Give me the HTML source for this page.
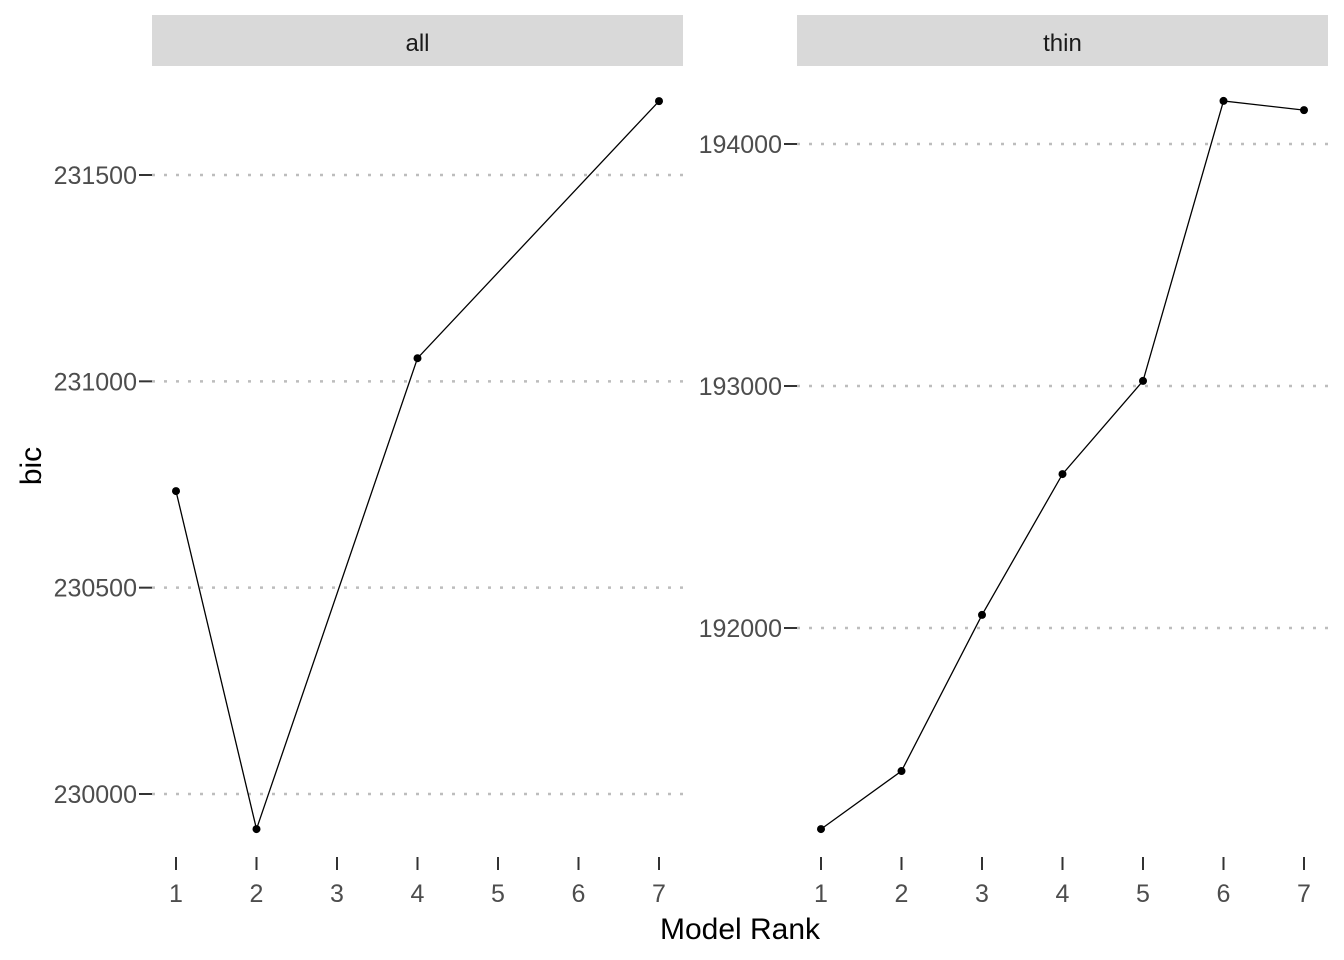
<!DOCTYPE html>
<html><head><meta charset="utf-8"><style>
body{margin:0;background:#fff;}
svg{display:block;font-family:"Liberation Sans",Arial,sans-serif;}
</style></head><body>
<svg id="chart" width="1344" height="960">
<text x="740" y="939" font-size="30" text-anchor="middle" fill="#000">Model Rank</text>
<text transform="translate(41,466) rotate(-90)" font-size="30" text-anchor="middle" fill="#000">bic</text>
</svg>
<script>
const ranks=[1,2,3,4,5,6,7];
const allRanks=[1,2,4,7];
const allBic=[230734,229915,231056,231679];
const allTicks=[230000,230500,231000,231500];
const thinRanks=[1,2,3,4,5,6,7];
const thinBic=[191169,191409,192054,192636,193021,194178,194140];
const thinTicks=[192000,193000,194000];
const NS="http://www.w3.org/2000/svg";
const svg=document.getElementById('chart');
function mk(t,a,p){const e=document.createElementNS(NS,t);for(const k in a)e.setAttribute(k,a[k]);(p||svg).appendChild(e);return e;}
function panel(name,left,right,label,xs,ys,ticks,v0,y0,v1,y1){
  const g=mk('g',{});
  
  
  const xf=v=>left+24+(v-1)*(right-left-48)/6;
  const yf=v=>y0+(v-v0)*(y1-y0)/(v1-v0);
  const s=mk('rect',{x:left,y:15,width:right-left,height:51,fill:'#d9d9d9'},g);
  
  
  const st=mk('text',{x:(left+right)/2,y:51,'font-size':24,'text-anchor':'middle',fill:'#1a1a1a'},g);
  st.textContent=label;
  
  
  ticks.forEach(t=>{const y=yf(t);
    const gl=mk('line',{x1:left,x2:right,y1:y,y2:y,stroke:'#bdbdbd','stroke-width':2.5,'stroke-dasharray':'3,9'},g);
    
    
    mk('line',{x1:left-13,x2:left,y1:y,y2:y,stroke:'#333','stroke-width':2},g);
    const tl=mk('text',{x:left-15,y:y+9,'font-size':25,'text-anchor':'end',fill:'#4d4d4d'},g);
    tl.textContent=t;
    
    
  });
  ranks.forEach(r=>{const x=xf(r);
    mk('line',{x1:x,x2:x,y1:857,y2:870,stroke:'#333','stroke-width':2},g);
    const tl=mk('text',{x:x,y:902,'font-size':25,'text-anchor':'middle',fill:'#4d4d4d'},g);
    tl.textContent=r;
    
    
  });
  const ln=mk('polyline',{points:xs.map((r,i)=>xf(r)+','+yf(ys[i])).join(' '),fill:'none',stroke:'#000','stroke-width':1.3},g);
  
  
  xs.forEach((r,i)=>{const c=mk('circle',{cx:xf(r),cy:yf(ys[i]),r:4,fill:'#000'},g);
    
    
  });
}
panel('all',152,683,'all',allRanks,allBic,allTicks,230000,794,231500,175);
panel('thin',797,1328,'thin',thinRanks,thinBic,thinTicks,192000,628,194000,144);
</script>
</body></html>
